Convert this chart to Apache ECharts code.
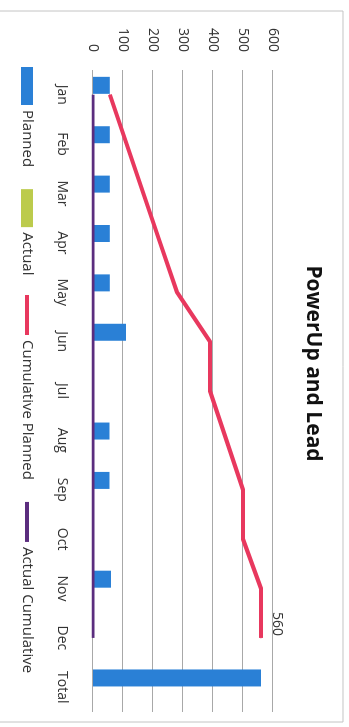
<!DOCTYPE html>
<html><head><meta charset="utf-8">
<script src="https://cdn.jsdelivr.net/npm/echarts@6/dist/echarts.min.js"></script>
<style>
html,body{margin:0;padding:0;background:#fff;overflow:hidden;width:349px;height:727px;}
#chart{position:absolute;left:0;top:0;width:727px;height:349px;transform-origin:0 0;transform:translate(349px,0) rotate(90deg);}
</style></head><body><div id="chart"></div>
<script>
const categories = ['Jan','Feb','Mar','Apr','May','Jun','Jul','Aug','Sep','Oct','Nov','Dec','Total'];
const planned = [56,56,56,56,56,110,0,55,55,0,60,0,560];
const actual = [0,0,0,0,0,0,0,0,0,0,0,0,0];
const cumulativePlanned = [56,112,168,224,280,390,390,445,500,500,560,560,null];
const actualCumulative = [0,0,0,0,0,0,0,0,0,0,0,0,null];
const valueMin = 0, valueMax = 600, valueStep = 100;
const labelIndex = 11;

const FONT = 'Open Sans';
const RED = '#e8385e', PURPLE = '#5b2d7e', BLUE = '#2a80d6', GREEN = '#bccb4c';
const legendText = {fontFamily:FONT, fontSize:15, color:'#333', lineHeight:16};
const chart = echarts.init(document.getElementById('chart'), null, {renderer:'canvas'});
chart.setOption({
  backgroundColor:'#fff',
  animation:false,
  textStyle:{fontFamily:FONT},
  title:{text:'PowerUp and Lead', left:'center', top:21,
    textStyle:{fontFamily:FONT, fontSize:21, fontWeight:'bold', color:'#111'}},
  graphic:[{type:'rect', shape:{x:11,y:6,width:711,height:360}, style:{fill:'none', stroke:'#c4c4c4', lineWidth:1}, silent:true}],
  legend:[
    {top:309, left:62, itemWidth:38, itemHeight:12, itemGap:22, textStyle:legendText,
      data:[{name:'Planned', icon:'rect'},{name:'Actual', icon:'rect'}]},
    {top:309, left:290, itemWidth:40, itemHeight:4, itemGap:22, textStyle:legendText,
      data:[{name:'Cumulative Planned', icon:'rect'},{name:'Actual Cumulative', icon:'rect'}]}
  ],
  grid:{left:70, right:15, top:76, bottom:93},
  xAxis:{type:'category', data:categories,
    axisLine:{show:false}, axisTick:{show:false},
    axisLabel:{margin:24, fontSize:14, color:'#333', fontFamily:FONT, interval:0}},
  yAxis:{type:'value', min:valueMin, max:valueMax, interval:valueStep,
    axisLine:{show:false}, axisTick:{show:false},
    splitLine:{lineStyle:{color:'#a8a8a8', width:1}},
    axisLabel:{margin:18, fontSize:14, color:'#333', fontFamily:FONT}},
  series:[
    {name:'Planned', type:'bar', data:planned, barWidth:17, barGap:'10%',
      itemStyle:{color:BLUE}},
    {name:'Actual', type:'bar', data:actual, barWidth:17,
      itemStyle:{color:GREEN}},
    {name:'Cumulative Planned', type:'line', symbol:'circle', symbolSize:1, showSymbol:true, z:4,
      lineStyle:{color:RED, width:4}, itemStyle:{color:RED},
      data:cumulativePlanned.map((v,i)=> i===labelIndex ? {value:v, label:{show:true, position:'top', distance:8, offset:[-14,0], fontSize:14, color:'#333', fontFamily:FONT}} : v)},
    {name:'Actual Cumulative', type:'line', symbol:'none', z:5,
      lineStyle:{color:PURPLE, width:3}, itemStyle:{color:PURPLE},
      data:actualCumulative}
  ]
});
</script></body></html>
